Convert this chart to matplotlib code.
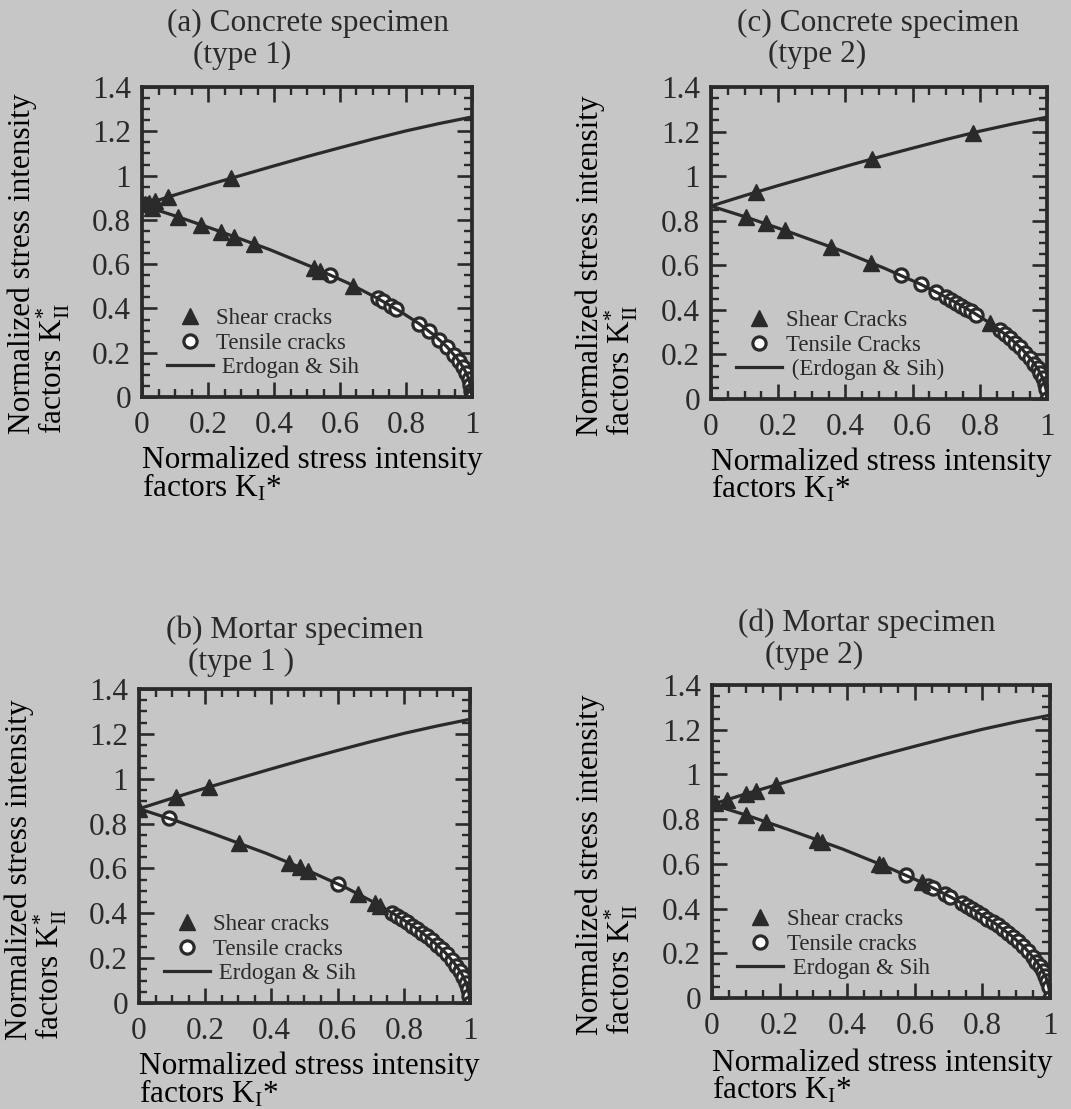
import matplotlib
matplotlib.use("Agg")
import matplotlib.pyplot as plt
from matplotlib.ticker import MultipleLocator, FixedLocator, FixedFormatter
from matplotlib.lines import Line2D

# ---------------- data ----------------
# Erdogan & Sih curves (same in every panel)
upper_x = [0.0, 0.1, 0.2, 0.3, 0.4, 0.5, 0.6, 0.7, 0.8, 0.9, 1.0]
upper_y = [0.866, 0.913, 0.958, 1.001, 1.044, 1.086, 1.126, 1.165, 1.202, 1.235, 1.265]
lower_x = [0.0, 0.109, 0.223, 0.385, 0.516, 0.624, 0.711, 0.782, 0.840, 0.887,
           0.924, 0.952, 0.974, 0.989, 0.997, 0.9993, 1.0]
lower_y = [0.866, 0.814, 0.755, 0.667, 0.587, 0.515, 0.448, 0.387, 0.331, 0.277,
           0.227, 0.179, 0.133, 0.088, 0.044, 0.022, 0.0]

# (a) Concrete specimen type 1
a_shear_x = [0.01, 0.02, 0.04, 0.08, 0.27, 0.03, 0.11, 0.18, 0.24, 0.28, 0.34, 0.52, 0.54, 0.64]
a_shear_y = [0.871, 0.875, 0.884, 0.903, 0.990, 0.852, 0.813, 0.777, 0.746, 0.724, 0.691, 0.584, 0.571, 0.503]
a_tensile_x = [0.57, 0.715, 0.73, 0.755, 0.77, 0.84, 0.87, 0.90, 0.925, 0.945, 0.96, 0.972,
               0.982, 0.99, 0.995, 0.998, 1.0, 1.0]
a_tensile_y = [0.551, 0.445, 0.432, 0.410, 0.397, 0.331, 0.297, 0.259, 0.225, 0.191, 0.163, 0.137,
               0.109, 0.083, 0.055, 0.029, 0.012, 0.0]

# (c) Concrete specimen type 2
c_shear_x = [0.135, 0.478, 0.78, 0.105, 0.164, 0.221, 0.356, 0.476, 0.83]
c_shear_y = [0.928, 1.077, 1.195, 0.816, 0.788, 0.757, 0.683, 0.611, 0.341]
c_tensile_x = [0.565, 0.625, 0.67, 0.70, 0.715, 0.73, 0.745, 0.76, 0.775, 0.79, 0.86, 0.875,
               0.89, 0.905, 0.92, 0.935, 0.95, 0.962, 0.972, 0.98, 0.987, 0.993, 0.997, 1.0]
c_tensile_y = [0.555, 0.514, 0.480, 0.456, 0.445, 0.432, 0.419, 0.406, 0.393, 0.379, 0.308, 0.291,
               0.273, 0.253, 0.232, 0.208, 0.182, 0.158, 0.137, 0.115, 0.094, 0.066, 0.044, 0.0]

# (b) Mortar specimen type 1
b_shear_x = [0.0, 0.113, 0.212, 0.302, 0.452, 0.486, 0.511, 0.662, 0.713, 0.728]
b_shear_y = [0.866, 0.919, 0.963, 0.712, 0.626, 0.605, 0.590, 0.486, 0.446, 0.433]
b_tensile_x = [0.09, 0.60, 0.765, 0.78, 0.795, 0.81, 0.825, 0.84, 0.855, 0.87, 0.885, 0.90,
               0.915, 0.93, 0.945, 0.958, 0.97, 0.98, 0.988, 0.994, 0.998, 1.0]
b_tensile_y = [0.823, 0.531, 0.402, 0.389, 0.375, 0.360, 0.345, 0.331, 0.314, 0.297, 0.279, 0.259,
               0.239, 0.217, 0.191, 0.167, 0.141, 0.115, 0.091, 0.061, 0.029, 0.0]

# (d) Mortar specimen type 2
d_shear_x = [0.01, 0.045, 0.10, 0.13, 0.19, 0.10, 0.16, 0.31, 0.325, 0.495, 0.505, 0.62]
d_shear_y = [0.871, 0.887, 0.913, 0.926, 0.954, 0.818, 0.788, 0.708, 0.700, 0.600, 0.594, 0.518]
d_tensile_x = [0.575, 0.64, 0.655, 0.69, 0.705, 0.74, 0.755, 0.77, 0.785, 0.80, 0.815, 0.83,
               0.845, 0.86, 0.875, 0.89, 0.905, 0.92, 0.935, 0.95, 0.96, 0.97, 0.978, 0.985,
               0.991, 0.996, 1.0]
d_tensile_y = [0.548, 0.503, 0.491, 0.464, 0.453, 0.423, 0.410, 0.397, 0.384, 0.370, 0.355, 0.341,
               0.325, 0.308, 0.291, 0.273, 0.253, 0.232, 0.208, 0.182, 0.163, 0.141, 0.121, 0.100,
               0.077, 0.050, 0.0]

x_ticks = [0, 0.2, 0.4, 0.6, 0.8, 1.0]
x_tick_labels = ["0", "0.2", "0.4", "0.6", "0.8", "1"]
y_ticks = [0, 0.2, 0.4, 0.6, 0.8, 1.0, 1.2, 1.4]
y_tick_labels = ["0", "0.2", "0.4", "0.6", "0.8", "1", "1.2", "1.4"]

# ---------------- style ----------------
BG = "#c6c6c6"
INK = "#2a2a2a"
plt.rcParams["font.family"] = ["Liberation Serif", "DejaVu Serif"]
plt.rcParams["mathtext.fontset"] = "custom"
plt.rcParams["mathtext.rm"] = "Liberation Serif"
plt.rcParams["mathtext.it"] = "Liberation Serif:italic"
plt.rcParams["mathtext.bf"] = "Liberation Serif:bold"
plt.rcParams["text.color"] = INK
FS = 22.5

fig = plt.figure(figsize=(10.71, 11.09), dpi=100, facecolor=BG)

panels = [
    dict(rect=[0.1326, 0.642, 0.3081, 0.2795], t1="(a) Concrete specimen", t2="(type 1)",
         t1x=0.076, t2x=0.155, t1y=1.206, t2y=1.103,
         sx=a_shear_x, sy=a_shear_y, tx=a_tensile_x, ty=a_tensile_y,
         labels=["Shear cracks", "Tensile cracks", " Erdogan & Sih"], xly=-0.158),
    dict(rect=[0.6639, 0.6402, 0.3137, 0.2813], t1="(c) Concrete specimen", t2="(type 2)",
         t1x=0.077, t2x=0.17, t1y=1.205, t2y=1.103,
         sx=c_shear_x, sy=c_shear_y, tx=c_tensile_x, ty=c_tensile_y,
         labels=["Shear Cracks", "Tensile Cracks", " (Erdogan & Sih)"], xly=-0.155),
    dict(rect=[0.1298, 0.0956, 0.3090, 0.2831], t1="(b) Mortar specimen", t2="(type 1 )",
         t1x=0.082, t2x=0.148, t1y=1.188, t2y=1.086,
         sx=b_shear_x, sy=b_shear_y, tx=b_tensile_x, ty=b_tensile_y,
         labels=["Shear cracks", "Tensile cracks", " Erdogan & Sih"], xly=-0.155),
    dict(rect=[0.6648, 0.1001, 0.3156, 0.2822], t1="(d) Mortar specimen", t2="(type 2)",
         t1x=0.077, t2x=0.157, t1y=1.198, t2y=1.096,
         sx=d_shear_x, sy=d_shear_y, tx=d_tensile_x, ty=d_tensile_y,
         labels=["Shear cracks", "Tensile cracks", " Erdogan & Sih"], xly=-0.160),
]

for p in panels:
    ax = fig.add_axes(p["rect"])
    ax.set_facecolor(BG)
    ax.plot(p["tx"], p["ty"], linestyle="none", marker="o", ms=9.5, mfc="white",
            mec=INK, mew=2.3, zorder=3)
    ax.plot(upper_x, upper_y, color=INK, lw=2.3, zorder=4)
    ax.plot(lower_x, lower_y, color=INK, lw=2.3, zorder=4)
    ax.plot(p["sx"], p["sy"], linestyle="none", marker="^", ms=11.5, color=INK, zorder=5)

    ax.set_xlim(0, 1)
    ax.set_ylim(0, 1.4)
    ax.xaxis.set_major_locator(FixedLocator(x_ticks))
    ax.xaxis.set_major_formatter(FixedFormatter(x_tick_labels))
    ax.yaxis.set_major_locator(FixedLocator(y_ticks))
    ax.yaxis.set_major_formatter(FixedFormatter(y_tick_labels))
    ax.xaxis.set_minor_locator(MultipleLocator(0.05))
    ax.yaxis.set_minor_locator(MultipleLocator(0.05))
    ax.tick_params(which="both", direction="in", top=True, right=True, color=INK,
                   labelcolor=INK, labelsize=FS)
    ax.tick_params(which="major", length=11, width=1.9, pad=8)
    ax.tick_params(axis="x", which="major", pad=10)
    ax.tick_params(which="minor", length=5.5, width=1.7)
    for s in ax.spines.values():
        s.set_linewidth(2.7)
        s.set_color(INK)
        s.set_zorder(6)

    ax.set_xlabel("Normalized stress intensity\nfactors K$_{\\mathrm{I}}$*", fontsize=FS,
                  multialignment="left", linespacing=0.86)
    ax.xaxis.label.set_ha("left")
    ax.xaxis.set_label_coords(0.0, p["xly"])
    ax.set_ylabel("Normalized stress intensity\nfactors K$_{\\mathrm{II}}^{*}$", fontsize=FS,
                  multialignment="left", linespacing=0.92)
    ax.yaxis.label.set_ha("left")
    ax.yaxis.set_label_coords(-0.212, -0.118)

    ax.set_title(p["t1"], loc="left", x=p["t1x"], y=p["t1y"], fontsize=FS, va="center", pad=0)
    ax.text(p["t2x"], p["t2y"], p["t2"], transform=ax.transAxes, fontsize=FS,
            ha="left", va="center")

    handles = [
        Line2D([], [], linestyle="none", marker="^", ms=11.5, color=INK),
        Line2D([], [], linestyle="none", marker="o", ms=9.5, mfc="white", mec=INK, mew=2.3),
        Line2D([], [], color=INK, lw=2.3),
    ]
    ax.legend(handles, p["labels"], loc="lower left", bbox_to_anchor=(0.075, 0.06),
              frameon=False, fontsize=16.5, handlelength=2.0, handletextpad=0.15,
              labelspacing=0.15, borderpad=0, borderaxespad=0, numpoints=1)

fig.savefig("out.png", dpi=100, facecolor=BG)
